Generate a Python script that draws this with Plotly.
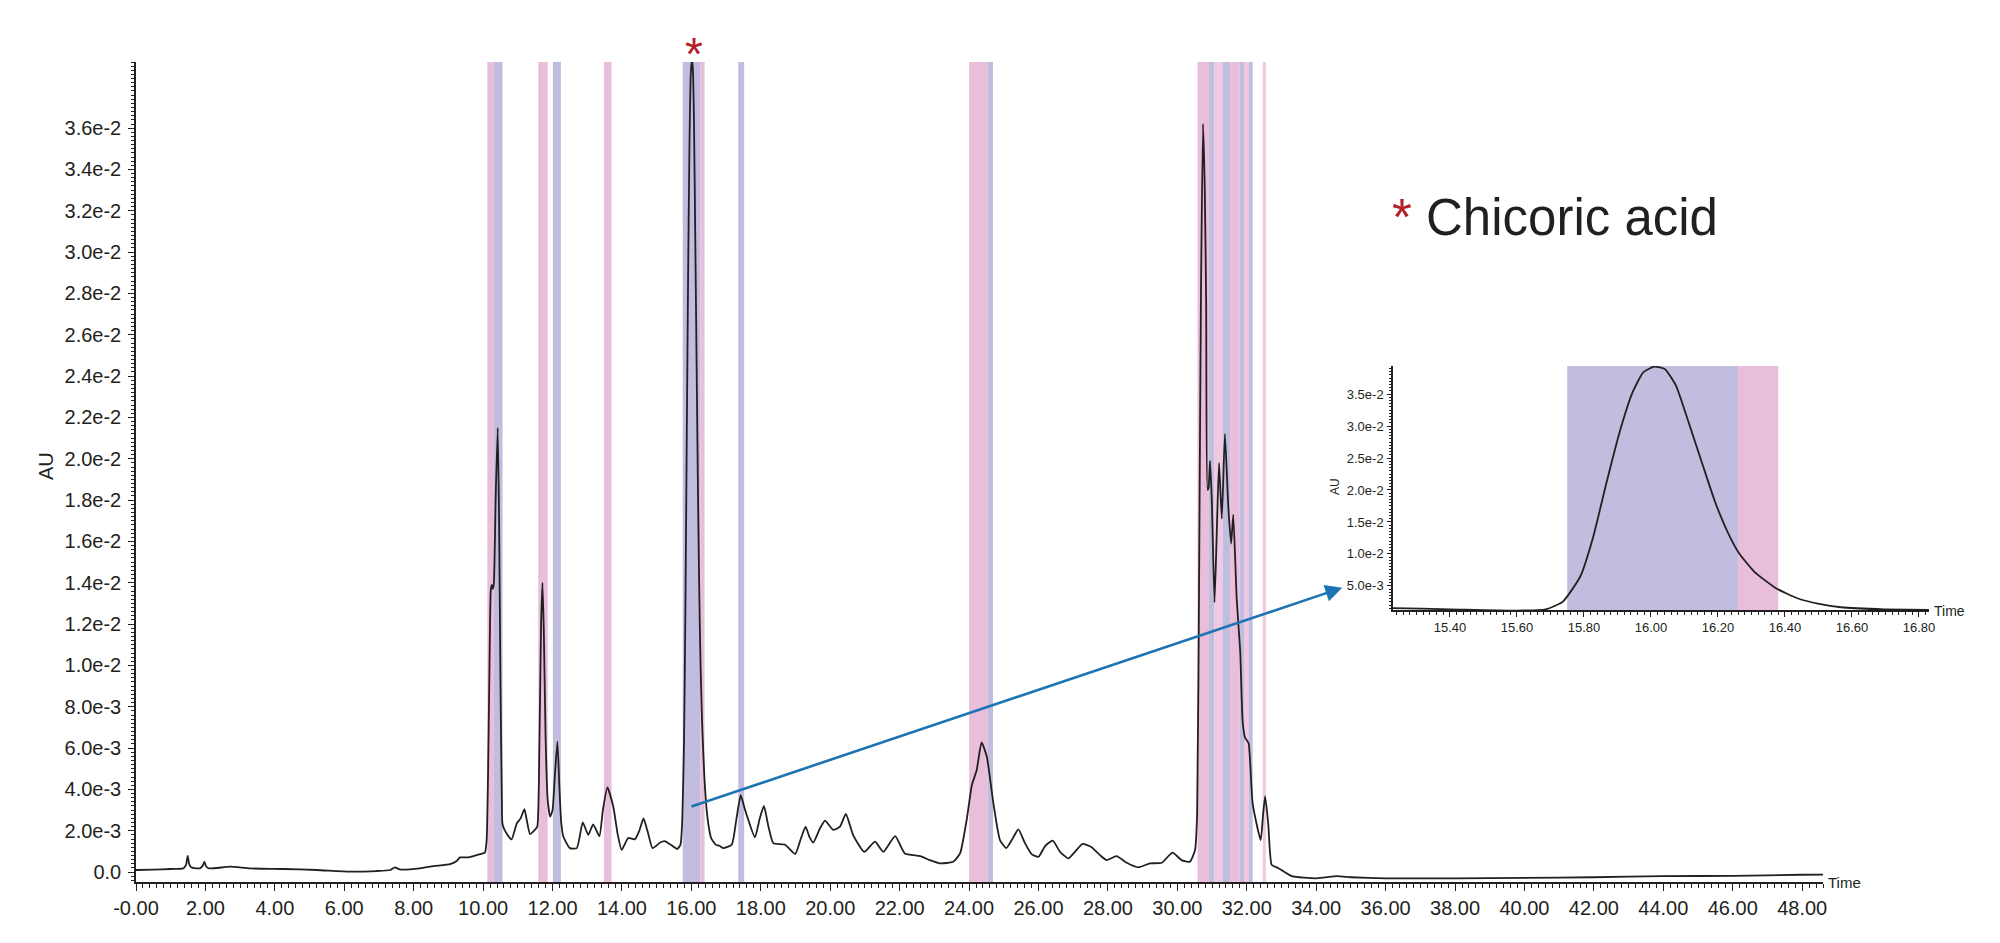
import plotly.graph_objects as go

# ---------------- data ----------------
time_min = [0.00, 0.50, 1.00, 1.36, 1.44, 1.49, 1.53, 1.60, 1.84, 1.92, 1.97, 2.02, 2.10, 2.71, 3.28,
            4.24, 5.20, 6.17, 6.93, 7.32, 7.46, 7.60, 8.18, 8.57, 9.05, 9.25, 9.33, 9.57, 9.91, 10.05,
            10.10, 10.14, 10.18, 10.22, 10.25, 10.28, 10.31, 10.36, 10.42, 10.46, 10.50, 10.54, 10.56,
            10.68, 10.82, 10.97, 11.08, 11.19, 11.27, 11.35, 11.49, 11.56, 11.62, 11.67, 11.71, 11.75,
            11.80, 11.86, 11.93, 12.00, 12.06, 12.14, 12.20, 12.25, 12.31, 12.50, 12.70, 12.87, 13.03,
            13.17, 13.35, 13.45, 13.58, 13.75, 13.88, 13.99, 14.18, 14.37, 14.50, 14.62, 14.75, 14.88,
            15.10, 15.23, 15.40, 15.595, 15.686, 15.737, 15.789, 15.828, 15.867, 15.906, 15.945, 15.977,
            16.01, 16.042, 16.075, 16.113, 16.152, 16.191, 16.23, 16.263, 16.308, 16.373, 16.437, 16.502,
            16.567, 16.697, 16.83, 16.92, 17.16, 17.30, 17.42, 17.53, 17.64, 17.83, 17.97, 18.09, 18.22,
            18.36, 18.70, 18.99, 19.15, 19.29, 19.40, 19.51, 19.70, 19.85, 20.09, 20.28, 20.45, 20.66,
            20.98, 21.29, 21.53, 21.87, 22.15, 22.59, 22.87, 23.16, 23.54, 23.74, 23.93, 24.08, 24.22,
            24.36, 24.51, 24.70, 24.89, 25.07, 25.23, 25.42, 25.61, 25.80, 26.00, 26.19, 26.41, 26.62,
            26.86, 27.05, 27.27, 27.53, 27.77, 27.96, 28.25, 28.54, 28.88, 29.21, 29.55, 29.86, 30.12,
            30.36, 30.51, 30.57, 30.63, 30.68, 30.74, 30.79, 30.83, 30.87, 30.90, 30.94, 30.99, 31.07,
            31.13, 31.20, 31.28, 31.37, 31.47, 31.55, 31.61, 31.71, 31.81, 31.88, 31.95, 32.05, 32.17,
            32.40, 32.47, 32.53, 32.62, 32.72, 32.90, 33.30, 34.00, 34.60, 35.00, 36.00, 38.00, 40.00,
            42.00, 44.00, 46.00, 48.00, 48.60]
absorbance_mAU = [0.10, 0.12, 0.15, 0.18, 0.35, 0.78, 0.40, 0.22, 0.18, 0.30, 0.50, 0.28, 0.18, 0.26, 0.18,
                  0.15, 0.10, 0.02, 0.05, 0.10, 0.23, 0.13, 0.18, 0.29, 0.39, 0.55, 0.71, 0.71, 0.87, 0.94,
                  1.50, 4.50, 9.50, 13.60, 13.90, 13.70, 14.00, 18.00, 21.50, 17.00, 9.00, 3.50, 2.30,
                  1.85, 1.58, 2.36, 2.60, 3.04, 2.40, 1.84, 2.04, 2.20, 6.00, 12.00, 14.00, 11.50,
                  6.50, 3.50, 2.68, 3.00, 4.50, 6.31, 4.00, 2.40, 1.72, 1.16, 1.16, 2.40, 1.80,
                  2.31, 1.74, 3.00, 4.10, 3.16, 1.80, 1.07, 1.65, 1.58, 2.00, 2.60, 1.90, 1.16,
                  1.43, 1.50, 1.33, 1.12, 1.33, 2.53, 6.46, 12.74, 21.10, 28.97, 35.26, 38.40,
                  39.30, 38.90, 36.30, 30.50, 24.30, 18.20, 13.30, 10.10, 7.24, 4.63, 3.06, 2.17,
                  1.65, 1.33, 1.25, 1.16, 1.32, 2.60, 3.72, 3.10, 2.52, 1.68, 2.60, 3.20, 2.20,
                  1.40, 1.32, 0.87, 1.60, 2.20, 1.70, 1.43, 2.10, 2.49, 2.04, 2.20, 2.81, 1.79,
                  0.98, 1.47, 0.98, 1.74, 0.90, 0.77, 0.58, 0.42, 0.50, 0.90, 2.52, 4.21, 4.94,
                  6.27, 5.59, 3.33, 1.55, 1.16, 1.55, 2.07, 1.40, 0.87, 0.74, 1.26, 1.52, 0.98,
                  0.66, 0.98, 1.36, 1.20, 0.82, 0.58, 0.77, 0.45, 0.23, 0.42, 0.45, 0.94, 0.58,
                  0.50, 1.07, 2.84, 15.20, 28.00, 36.20, 33.00, 27.50, 18.50, 18.60, 19.90, 18.10, 13.05,
                  16.10, 19.80, 17.10, 21.20, 17.60, 15.90, 17.30, 13.20, 10.70, 7.30, 6.50, 6.25, 3.30,
                  1.55, 2.80, 3.68, 2.30, 0.34, 0.20, -0.20, -0.30, -0.20, -0.25, -0.30, -0.30, -0.28,
                  -0.25, -0.20, -0.18, -0.13, -0.12]
absorbance_AU = [v / 1000.0 for v in absorbance_mAU]

# fraction windows (start, end, colour group)
band_start = [10.12, 10.31, 11.59, 12.01, 13.48, 15.75, 16.26, 17.35, 24.00, 24.53,
              30.58, 30.91, 31.06, 31.30, 31.52, 31.79, 31.92, 32.05, 32.46]
band_end = [10.31, 10.56, 11.86, 12.24, 13.70, 16.26, 16.38, 17.52, 24.53, 24.69,
            30.91, 31.06, 31.30, 31.52, 31.79, 31.92, 32.05, 32.17, 32.55]
band_kind = ["pink", "lav", "pink", "lav", "pink", "lav", "pink", "lav", "pink", "lav",
             "pink", "lav", "lpink", "lav", "pink", "lav", "lpink", "lav", "lpink"]

# main axis ticks
x_tickvals = [0, 2, 4, 6, 8, 10, 12, 14, 16, 18, 20, 22, 24, 26, 28, 30, 32, 34, 36, 38, 40, 42, 44, 46, 48]
x_ticktext = ["-0.00", "2.00", "4.00", "6.00", "8.00", "10.00", "12.00", "14.00", "16.00", "18.00",
              "20.00", "22.00", "24.00", "26.00", "28.00", "30.00", "32.00", "34.00", "36.00", "38.00",
              "40.00", "42.00", "44.00", "46.00", "48.00"]
y_tickvals = [0.0, 0.002, 0.004, 0.006, 0.008, 0.010, 0.012, 0.014, 0.016, 0.018,
              0.020, 0.022, 0.024, 0.026, 0.028, 0.030, 0.032, 0.034, 0.036]
y_ticktext = ["0.0", "2.0e-3", "4.0e-3", "6.0e-3", "8.0e-3", "1.0e-2", "1.2e-2", "1.4e-2", "1.6e-2",
              "1.8e-2", "2.0e-2", "2.2e-2", "2.4e-2", "2.6e-2", "2.8e-2", "3.0e-2", "3.2e-2", "3.4e-2",
              "3.6e-2"]
# inset ticks
ix_tickvals = [15.40, 15.60, 15.80, 16.00, 16.20, 16.40, 16.60, 16.80]
ix_ticktext = ["15.40", "15.60", "15.80", "16.00", "16.20", "16.40", "16.60", "16.80"]
iy_tickvals = [0.005, 0.010, 0.015, 0.020, 0.025, 0.030, 0.035]
iy_ticktext = ["5.0e-3", "1.0e-2", "1.5e-2", "2.0e-2", "2.5e-2", "3.0e-2", "3.5e-2"]

main_xrange = [0.0, 48.6]
main_yrange = [-0.00048, 0.0392]
inset_xrange = [15.23, 16.83]
inset_yrange = [0.00122, 0.0394]

# ---------------- styles ----------------
W, H = 2000, 943
FONT = "Liberation Sans, Arial, Helvetica, sans-serif"
INK = "#231f20"
COLORS = {"pink": "#e9bedb", "lav": "#c0bddf", "lpink": "#edcae2"}

def px(x):
    return x / W

def py(y):
    return 1 - y / H

fig = go.Figure()

line_style = dict(color=INK, width=1.8, shape="spline", smoothing=0.5)
fig.add_trace(go.Scatter(x=time_min, y=absorbance_AU, mode="lines", line=line_style,
                         xaxis="x", yaxis="y", showlegend=False, hoverinfo="skip"))
fig.add_trace(go.Scatter(x=time_min, y=absorbance_AU, mode="lines", line=line_style,
                         xaxis="x2", yaxis="y2", showlegend=False, hoverinfo="skip"))

shapes = []
for s, e, k in zip(band_start, band_end, band_kind):
    shapes.append(dict(type="rect", xref="x", yref="y domain", x0=s, x1=e, y0=0, y1=1,
                       fillcolor=COLORS[k], line=dict(width=0), layer="below"))
    if e > inset_xrange[0] and s < inset_xrange[1]:
        shapes.append(dict(type="rect", xref="x2", yref="y2 domain",
                           x0=max(s, inset_xrange[0]), x1=min(e, inset_xrange[1]), y0=0, y1=1,
                           fillcolor=COLORS[k], line=dict(width=0), layer="below"))

axis_common = dict(showgrid=False, zeroline=False, showline=True, linecolor=INK, linewidth=1.5,
                   ticks="outside", tickcolor=INK, automargin=False, tickmode="array")

fig.update_layout(
    width=W, height=H, margin=dict(l=0, r=0, t=0, b=0),
    paper_bgcolor="white", plot_bgcolor="rgba(0,0,0,0)",
    font=dict(family=FONT, color=INK),
    shapes=shapes,
    xaxis=dict(axis_common, domain=[px(136), px(1823)], range=main_xrange,
               tickvals=x_tickvals, ticktext=x_ticktext, ticklen=7, tickwidth=1.3,
               tickfont=dict(size=20, family=FONT, color=INK), anchor="y",
               minor=dict(dtick=0.2, tick0=0, ticklen=4, tickcolor=INK, ticks="outside", tickwidth=1)),
    yaxis=dict(axis_common, domain=[py(882), py(62)], range=main_yrange,
               tickvals=y_tickvals, ticktext=y_ticktext, ticklen=6, tickwidth=1.3,
               tickfont=dict(size=20, family=FONT, color=INK), anchor="x", ticklabelstandoff=3,
               minor=dict(dtick=0.0002, tick0=0, ticklen=3, tickcolor=INK, ticks="outside", tickwidth=1)),
    xaxis2=dict(axis_common, domain=[px(1393), px(1929)], range=inset_xrange,
                tickvals=ix_tickvals, ticktext=ix_ticktext, ticklen=5, tickwidth=1.2,
                tickfont=dict(size=13, family=FONT, color=INK), anchor="y2",
                minor=dict(dtick=0.02, tick0=15.0, ticklen=3, tickcolor=INK, ticks="outside", tickwidth=1)),
    yaxis2=dict(axis_common, domain=[py(610), py(366)], range=inset_yrange,
                tickvals=iy_tickvals, ticktext=iy_ticktext, ticklen=4, tickwidth=1.2,
                tickfont=dict(size=13, family=FONT, color=INK), anchor="x2", ticklabelstandoff=1,
                minor=dict(dtick=0.0005, tick0=0, ticklen=2, tickcolor=INK, ticks="outside", tickwidth=1)),
)

annotations = [
    dict(text="AU", xref="paper", yref="paper", x=px(46), y=py(466), textangle=-90,
         showarrow=False, font=dict(size=20, family=FONT, color=INK), xanchor="center", yanchor="middle"),
    dict(text="Time", xref="paper", yref="paper", x=px(1826), y=py(882),
         showarrow=False, font=dict(size=15, family=FONT, color=INK), xanchor="left", yanchor="middle"),
    dict(text="AU", xref="paper", yref="paper", x=px(1335), y=py(487), textangle=-90,
         showarrow=False, font=dict(size=12, family=FONT, color=INK), xanchor="center", yanchor="middle"),
    dict(text="Time", xref="paper", yref="paper", x=px(1932), y=py(611),
         showarrow=False, font=dict(size=14, family=FONT, color=INK), xanchor="left", yanchor="middle"),
    dict(text="*", xref="paper", yref="paper", x=px(694), y=py(54),
         showarrow=False, font=dict(size=46, family=FONT, color="#b3202a"), xanchor="center", yanchor="middle"),
    dict(text="<span style='color:#b3202a'>*</span> Chicoric acid", xref="paper", yref="paper",
         x=px(1390), y=py(218), showarrow=False, font=dict(size=51, family=FONT, color=INK),
         xanchor="left", yanchor="middle"),
    dict(text="", x=34.75, y=0.01376, xref="x", yref="y", ax=15.96, ay=0.00315, axref="x", ayref="y",
         showarrow=True, arrowhead=2, arrowsize=1.3, arrowwidth=2.6, arrowcolor="#1c74b4", standoff=0),
]
fig.update_layout(annotations=annotations)

fig.write_html("out.html")
